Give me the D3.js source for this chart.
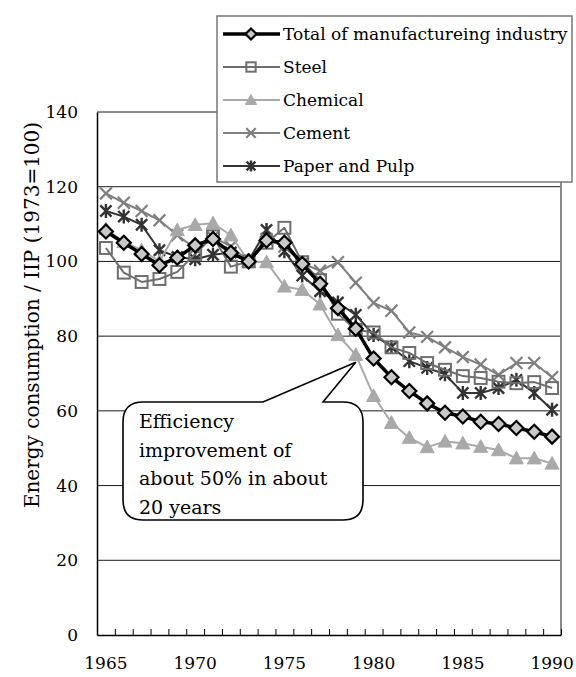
<!DOCTYPE html>
<html>
<head>
<meta charset="utf-8">
<script src="https://cdn.jsdelivr.net/npm/d3@7/dist/d3.min.js"></script>
<style>
  body { margin: 0; background: #fff; }
  svg { display: block; }
  text { font-family: "DejaVu Serif", "Liberation Serif", serif; fill: #000; }
</style>
</head>
<body>
<svg id="chart" width="576" height="677"></svg>
<script>
// Energy consumption per IIP by industry, index 1973 = 100
const years = [1965, 1966, 1967, 1968, 1969, 1970, 1971, 1972, 1973, 1974, 1975, 1976, 1977,
               1978, 1979, 1980, 1981, 1982, 1983, 1984, 1985, 1986, 1987, 1988, 1989, 1990];
const yearLabels = [1965, 1970, 1975, 1980, 1985, 1990];
const yTicks = [0, 20, 40, 60, 80, 100, 120, 140];

const total    = [108, 105, 102, 99, 101, 104.3, 106, 102.3, 100, 105.6, 105, 99.3, 94, 87.5, 82, 74,
                  69, 65.3, 62, 59.5, 58.5, 57.1, 56.5, 55.4, 54.4, 53.1];
const steel    = [103.6, 97, 94.5, 95.3, 97.2, 102, 106.7, 98.6, 100, 105, 109, 99.8, 95, 86, 81.7, 81,
                  77, 75.5, 72.8, 71, 69.3, 68.8, 67.8, 67.4, 67.7, 66.1];
const chemical = [108.7, 105.2, 103, 100, 108.4, 109.8, 110.2, 107, 100, 99.8, 93.3, 92.4, 88.5, 80.3,
                  75, 64, 56.8, 52.8, 50.3, 51.8, 51.3, 50.4, 49.5, 47.3, 47.3, 45.9];
const cement   = [118.2, 115.7, 113.5, 111, 107, 103.5, 106.5, 104, 100, 106, 104, 99.5, 97.5, 99.8,
                  94.3, 88.9, 86.8, 81, 79.8, 77, 74.4, 72.4, 69.6, 72.8, 72.8, 69];
const paper    = [113.5, 112, 109.8, 103, 101.2, 100.6, 101.8, 102.4, 100.3, 108.4, 102.7, 96.2, 92,
                  89, 85.7, 80.3, 77.1, 73.3, 71.5, 69.8, 64.8, 64.8, 66.1, 68.3, 64.8, 60.3];

const series = [
  { name: "Paper and Pulp", values: paper, color: "#333333", width: 2, marker: "star" },
  { name: "Cement", values: cement, color: "#7f7f7f", width: 2, marker: "cross" },
  { name: "Chemical", values: chemical, color: "#a9a9a9", width: 2, marker: "triangle" },
  { name: "Steel", values: steel, color: "#6e6e6e", width: 2, marker: "square" },
  { name: "Total of manufactureing industry", values: total, color: "#000000", width: 3.5, marker: "diamond" }
];
const legendOrder = ["Total of manufactureing industry", "Steel", "Chemical", "Cement", "Paper and Pulp"];

const svg = d3.select("#chart");
const plot = { left: 97, right: 561, top: 112, bottom: 635 };

const x = d3.scaleBand().domain(years).range([plot.left, plot.right]);
const cx = d => x(d) + x.bandwidth() / 2;
const y = d3.scaleLinear().domain([0, 140]).range([plot.bottom, plot.top]);

// gridlines
svg.append("g")
  .selectAll("line")
  .data(yTicks.filter(v => v > 0))
  .join("line")
  .attr("x1", plot.left).attr("x2", plot.right)
  .attr("y1", d => y(d)).attr("y2", d => y(d))
  .attr("stroke", "#1a1a1a").attr("stroke-width", 1);

// right border of the plot area
svg.append("line")
  .attr("x1", plot.right).attr("x2", plot.right)
  .attr("y1", plot.top).attr("y2", plot.bottom)
  .attr("stroke", "#8a8a8a").attr("stroke-width", 2);

// y axis
const yAxis = svg.append("g")
  .attr("transform", `translate(${plot.left},0)`)
  .call(d3.axisLeft(y).tickValues(yTicks).tickSize(0).tickPadding(19));
yAxis.select(".domain").attr("stroke", "#000").attr("stroke-width", 1.5);
yAxis.selectAll("text").style("font-family", "DejaVu Serif").style("font-size", "17px");

// x axis: category labels
const xAxis = svg.append("g")
  .attr("transform", `translate(0,${plot.bottom})`)
  .call(d3.axisBottom(x).tickValues(yearLabels).tickSize(0).tickPadding(22));
xAxis.select(".domain").remove();
xAxis.selectAll("text").style("font-family", "DejaVu Serif").style("font-size", "17px");

// x axis: line with inward ticks at category boundaries
const xb = d3.scaleLinear().domain([0, years.length]).range([plot.left, plot.right]);
const xTickAxis = svg.append("g")
  .attr("transform", `translate(0,${plot.bottom})`)
  .call(d3.axisBottom(xb).ticks(years.length).tickSize(-6).tickSizeOuter(0).tickFormat(""));
xTickAxis.select(".domain").attr("stroke", "#000").attr("stroke-width", 1.5);
xTickAxis.selectAll(".tick line").attr("stroke", "#000").attr("stroke-width", 1);

// y axis title
svg.append("text")
  .attr("transform", "translate(39,315) rotate(-90)")
  .attr("text-anchor", "middle")
  .style("font-size", "20px")
  .text("Energy consumption / IIP (1973=100)");

// marker drawing
function drawMarker(g, type, color, size) {
  const s = size / 2;
  if (type === "diamond") {
    g.append("path").attr("d", `M0,${-s}L${s},0L0,${s}L${-s},0Z`)
      .attr("fill", "#c8c8c8").attr("stroke", "#000").attr("stroke-width", 2.2);
  } else if (type === "square") {
    const q = s * 0.85;
    g.append("rect").attr("x", -q).attr("y", -q).attr("width", 2 * q).attr("height", 2 * q)
      .attr("fill", "none").attr("stroke", color).attr("stroke-width", 2);
  } else if (type === "triangle") {
    g.append("path").attr("d", `M0,${-s}L${s},${s * 0.8}L${-s},${s * 0.8}Z`)
      .attr("fill", color).attr("stroke", color).attr("stroke-width", 1);
  } else if (type === "cross") {
    const q = s * 0.85;
    g.append("path").attr("d", `M${-q},${-q}L${q},${q}M${-q},${q}L${q},${-q}`)
      .attr("stroke", color).attr("stroke-width", 2.2).attr("fill", "none");
  } else if (type === "star") {
    const q = s * 0.8;
    g.append("path").attr("d", `M${-q},${-q}L${q},${q}M${-q},${q}L${q},${-q}M0,${-s}L0,${s}`)
      .attr("stroke", color).attr("stroke-width", 2.4).attr("fill", "none");
  }
}

const line = d3.line().x((d, i) => cx(years[i])).y(d => y(d));

series.forEach(sr => {
  const g = svg.append("g");
  g.append("path")
    .attr("d", line(sr.values))
    .attr("fill", "none")
    .attr("stroke", sr.color)
    .attr("stroke-width", sr.width)
    .attr("stroke-linejoin", "round");
  sr.values.forEach((v, i) => {
    const mg = g.append("g").attr("transform", `translate(${cx(years[i])},${y(v)})`);
    drawMarker(mg, sr.marker, sr.color, 14);
  });
});

// callout
const co = { left: 123, right: 363, top: 402, bottom: 520, r: 20 };
const tip = { x: cx(1979), y: y(73) };
const baseA = 263, baseB = 323;
const calloutPath =
  `M${co.left + co.r},${co.top}` +
  `L${baseA},${co.top}L${tip.x},${tip.y}L${baseB},${co.top}` +
  `L${co.right - co.r},${co.top}Q${co.right},${co.top} ${co.right},${co.top + co.r}` +
  `L${co.right},${co.bottom - co.r}Q${co.right},${co.bottom} ${co.right - co.r},${co.bottom}` +
  `L${co.left + co.r},${co.bottom}Q${co.left},${co.bottom} ${co.left},${co.bottom - co.r}` +
  `L${co.left},${co.top + co.r}Q${co.left},${co.top} ${co.left + co.r},${co.top}Z`;
svg.append("path").attr("d", calloutPath)
  .attr("fill", "#fff").attr("stroke", "#000").attr("stroke-width", 1.6);

const calloutLines = ["Efficiency", "improvement of", "about 50% in about", "20 years"];
svg.append("g").selectAll("text")
  .data(calloutLines)
  .join("text")
  .attr("x", 139)
  .attr("y", (d, i) => 428 + i * 28.7)
  .style("font-size", "19px")
  .text(d => d);

// legend
const lg = svg.append("g");
lg.append("rect")
  .attr("x", 217).attr("y", 16).attr("width", 355).attr("height", 166)
  .attr("fill", "#fff").attr("stroke", "#777").attr("stroke-width", 1.5);
legendOrder.forEach((name, i) => {
  const sr = series.find(s => s.name === name);
  const cy = 34 + i * 33;
  const row = lg.append("g").attr("transform", `translate(0,${cy})`);
  row.append("line").attr("x1", 223).attr("x2", 280).attr("y1", 0).attr("y2", 0)
    .attr("stroke", sr.color).attr("stroke-width", sr.width);
  drawMarker(row.append("g").attr("transform", "translate(251,0)"), sr.marker, sr.color, 11);
  row.append("text").attr("x", 283).attr("y", 6).style("font-size", "17px").text(name);
});
</script>
</body>
</html>
